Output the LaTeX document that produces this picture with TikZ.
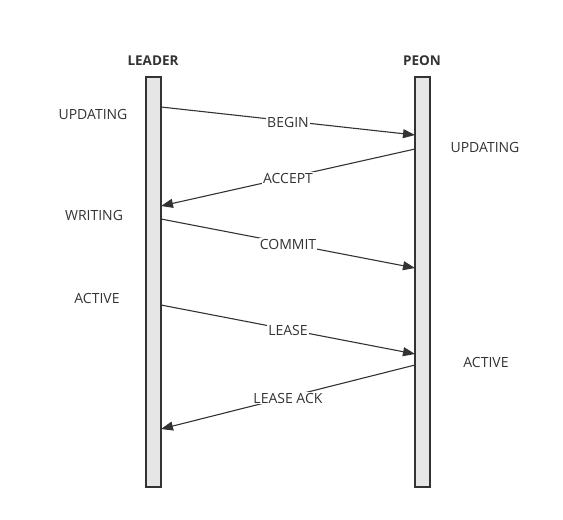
\documentclass[tikz,border=0pt]{standalone}
\usepackage{fontspec}
\setmainfont{Open Sans}
\usetikzlibrary{arrows.meta}
\definecolor{ink}{HTML}{333333}
\definecolor{bar}{HTML}{E6E6E6}
\tikzset{
  lifeline/.style={draw=ink,fill=bar,line width=1.5pt},
  msg/.style={draw=ink,line width=1.1pt,-{Triangle[length=12pt,width=9pt]}},
  msglabel/.style={fill=white,inner sep=1pt,text=ink,font=\fontsize{14}{16}\selectfont},
  state/.style={text=ink,font=\fontsize{14}{16}\selectfont},
  actor/.style={text=ink,font=\fontsize{13.5}{15}\selectfont\bfseries}
}
\begin{document}
\begin{tikzpicture}[x=1pt,y=-1pt]
    \useasboundingbox (0,0) rectangle (563,520);
    \node[actor] (leader) at (153, 61) {LEADER};
    \node[actor] (peon)   at (422, 61) {PEON};
    \draw[lifeline] (146, 77) rectangle (161, 487);
    \draw[lifeline] (415, 77) rectangle (430, 487);
    \node[state] (sL1) at ( 93, 114) {UPDATING};
    \node[state] (sL2) at ( 94, 215) {WRITING};
    \node[state] (sL3) at ( 97, 298) {ACTIVE};
    \node[state] (sP1) at (485, 147) {UPDATING};
    \node[state] (sP2) at (486, 362) {ACTIVE};
    % points on the lifelines
    \coordinate (L1) at (161, 107);
    \coordinate (P1) at (415, 135);
    \coordinate (P2) at (415, 149);
    \coordinate (L2) at (161, 206);
    \coordinate (L3) at (161, 219);
    \coordinate (P3) at (415, 268);
    \coordinate (L4) at (161, 305);
    \coordinate (P4) at (415, 354);
    \coordinate (P5) at (415, 365);
    \coordinate (L5) at (161, 429);
    \draw[msg] (L1) -- node[msglabel,yshift=-1pt] {BEGIN} (P1);
    \draw[msg] (P2) -- node[msglabel,yshift=-1pt] {ACCEPT} (L2);
    \draw[msg] (L3) -- node[msglabel,yshift=-1pt] {COMMIT} (P3);
    \draw[msg] (L4) -- node[msglabel,yshift=-1pt] {LEASE} (P4);
    \draw[msg] (P5) -- node[msglabel,yshift=-1pt] {LEASE ACK} (L5);
  \end{tikzpicture}
\end{document}
